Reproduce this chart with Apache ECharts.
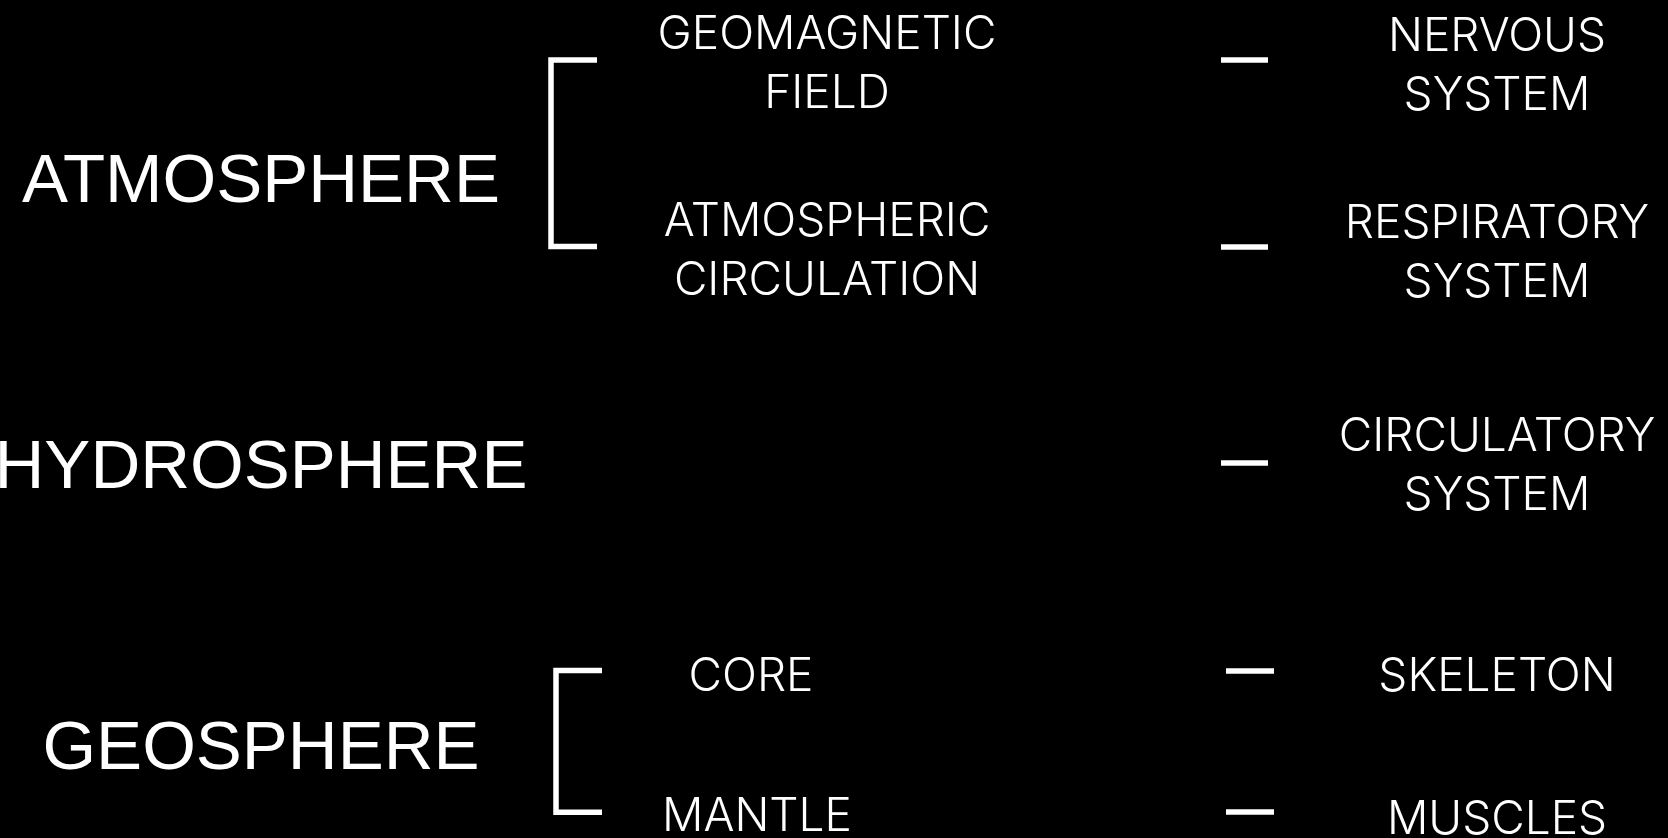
<!DOCTYPE html>
<html>
<head>
<meta charset="utf-8">
<script src="https://cdn.jsdelivr.net/npm/echarts@6/dist/echarts.min.js"></script>
<style>
html,body{margin:0;padding:0;background:#000;}
#c{width:1668px;height:838px;}
</style>
</head>
<body>
<div id="c"></div>
<script>
// Spheres (left column)
const sphereNames = ['ATMOSPHERE', 'HYDROSPHERE', 'GEOSPHERE'];
const sphereLevel = [177, 463, 744];
const sphereCol = [261, 261, 261];

// Sub-parts (middle column)
const partNames = ['GEOMAGNETIC\nFIELD', 'ATMOSPHERIC\nCIRCULATION', 'CORE', 'MANTLE'];
const partLevel = [61, 248, 673, 813];
const partCol = [827, 827, 751, 757];

// Body systems (right column)
const bodyNames = ['NERVOUS\nSYSTEM', 'RESPIRATORY\nSYSTEM', 'CIRCULATORY\nSYSTEM', 'SKELETON', 'MUSCLES'];
const bodyLevel = [63, 250, 463, 673, 816];
const bodyCol = [1497, 1497, 1497, 1497, 1497];

// Link dashes
const dashLevel = [60, 246.5, 462.5, 671, 812];
const dashFrom = [1221, 1221, 1221, 1226, 1226];
const dashTo = [1268, 1268, 1268, 1274, 1274];

// Brackets: [spine column, tip column, top level, bottom level]
const bracketSpine = [551, 556];
const bracketTip = [597, 602];
const bracketTop = [60, 670.5];
const bracketBottom = [246.5, 812.3];

const bigFont = { fontFamily: 'Liberation Sans', fontSize: 69, fontWeight: 'normal', dy: 6 };
const smallFont = { fontFamily: 'Inter', fontSize: 46, fontWeight: 300, dy: 4 };

function textSeries(names, cols, levels, font) {
  return {
    type: 'scatter',
    symbolSize: 0.1,
    silent: true,
    itemStyle: { opacity: 1, color: '#000000' },
    data: names.map((n, i) => ({ name: n, value: [cols[i], levels[i]] })),
    label: {
      show: true,
      position: 'inside',
      offset: [0, font.dy],
      formatter: p => p.name,
      color: '#ffffff',
      opacity: 1,
      align: 'center',
      verticalAlign: 'middle',
      lineHeight: 59,
      fontFamily: font.fontFamily,
      fontSize: font.fontSize,
      fontWeight: font.fontWeight
    }
  };
}

const chart = echarts.init(document.getElementById('c'));
chart.setOption({
  backgroundColor: '#000000',
  animation: false,
  grid: { left: 0, right: 0, top: 0, bottom: 0 },
  xAxis: { type: 'value', min: 0, max: 1668, show: false },
  yAxis: { type: 'value', min: 0, max: 838, inverse: true, show: false },
  series: [
    textSeries(sphereNames, sphereCol, sphereLevel, bigFont),
    textSeries(partNames, partCol, partLevel, smallFont),
    textSeries(bodyNames, bodyCol, bodyLevel, smallFont),
    {
      type: 'lines',
      coordinateSystem: 'cartesian2d',
      polyline: true,
      silent: true,
      lineStyle: { color: '#ffffff', width: 5.5, opacity: 1, join: 'miter', cap: 'butt' },
      data: bracketSpine.map((s, i) => ({
        coords: [
          [bracketTip[i], bracketTop[i]],
          [s, bracketTop[i]],
          [s, bracketBottom[i]],
          [bracketTip[i], bracketBottom[i]]
        ]
      }))
    },
    {
      type: 'lines',
      coordinateSystem: 'cartesian2d',
      silent: true,
      lineStyle: { color: '#ffffff', width: 5.5, opacity: 1, cap: 'butt' },
      data: dashLevel.map((y, i) => ({ coords: [[dashFrom[i], y], [dashTo[i], y]] }))
    }
  ]
});
</script>
</body>
</html>
